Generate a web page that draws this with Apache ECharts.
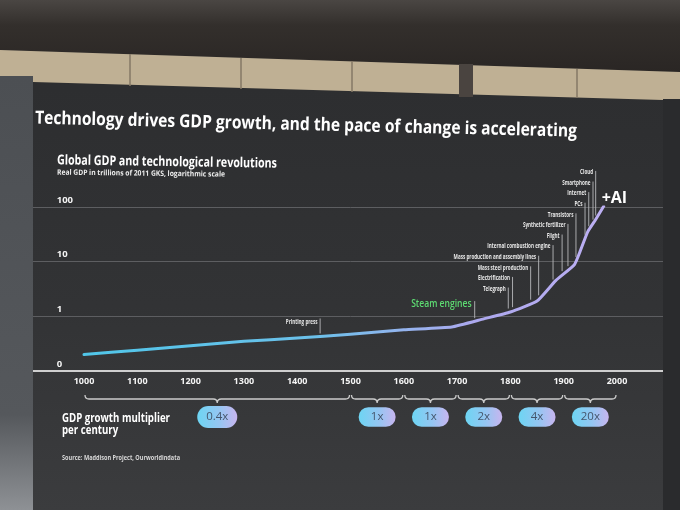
<!DOCTYPE html>
<html><head><meta charset="utf-8">
<script src="https://cdn.jsdelivr.net/npm/echarts@6/dist/echarts.min.js"></script>
<style>html,body{margin:0;padding:0;background:#303133;}#c{width:680px;height:510px;}</style>
</head><body><div id="c"></div>
<script>
// ---- data ----
const gdpYears  = [1000, 1100, 1200, 1300, 1400, 1500, 1600, 1690, 1750, 1800, 1850, 1885, 1920, 1930, 1945, 1960, 1975];
const gdpValues = [0.2, 0.24, 0.29, 0.35, 0.4, 0.47, 0.57, 0.64, 0.9, 1.2, 1.9, 4.5, 8.8, 14.7, 35, 59, 103];

const techNames = ['Telegraph', 'Electrification', 'Mass steel production', 'Mass production and assembly lines',
  'Internal combustion engine', 'Flight', 'Synthetic fertilizer', 'Transistors', 'PCs', 'Internet', 'Smartphone', 'Cloud'];
const techYears = [1796, 1804, 1838, 1853, 1880, 1897, 1908, 1923, 1940, 1947, 1955, 1960];

const milestoneNames = ['Printing press', 'Steam engines'];
const milestoneYears = [1443, 1733];

const periodStarts = [1000, 1500, 1600, 1700, 1800, 1900];
const periodEnds   = [1500, 1600, 1700, 1800, 1900, 2000];
const multipliers  = ['0.4x', '1x', '1x', '2x', '4x', '20x'];

const xTickLabels = ['1000','1100','1200','1300','1400','1500','1600','1700','1800','1900','2000'];
const yTickLabels = ['0', '1', '10', '100'];
const endLabelText = '+AI';

// ---- helpers ----
function gdpAt(year) {
  for (let i = 0; i < gdpYears.length - 1; i++) {
    if (year >= gdpYears[i] && year <= gdpYears[i + 1]) {
      const t = (year - gdpYears[i]) / (gdpYears[i + 1] - gdpYears[i]);
      return Math.pow(10, Math.log10(gdpValues[i]) * (1 - t) + Math.log10(gdpValues[i + 1]) * t);
    }
  }
  return gdpValues[gdpValues.length - 1];
}
const mctx = document.createElement('canvas').getContext('2d');
function fitScale(text, size, family, weight, target) {
  mctx.font = weight + ' ' + size + 'px "' + family + '"';
  return target / mctx.measureText(text).width;
}
const FF = 'Open Sans';

const chart = echarts.init(document.getElementById('c'), null, {renderer: 'canvas'});

const lineGrad = new echarts.graphic.LinearGradient(0, 0, 1, 0, [
  {offset: 0, color: '#50c6e9'}, {offset: 0.45, color: '#6cc0ea'},
  {offset: 0.62, color: '#95b3ee'}, {offset: 0.75, color: '#aca8ee'}, {offset: 1, color: '#bcaff3'}
]);
const pillGrad = new echarts.graphic.LinearGradient(0, 0, 1, 0, [
  {offset: 0, color: '#6dd5f3'}, {offset: 0.55, color: '#95c6f2'}, {offset: 1, color: '#c8b5ef'}
]);

const title = 'Technology drives GDP growth, and the pace of change is accelerating';
const cTitle = 'Global GDP and technological revolutions';
const cSub = 'Real GDP in trillions of 2011 GKS, logarithmic scale';
const mult1 = 'GDP growth multiplier';
const mult2 = 'per century';
const source = 'Source: Maddison Project, Ourworldindata';
const multScale = fitScale(mult1, 11.5, FF, 'bold', 108);

function txt(text, x, y, size, target, opts) {
  opts = opts || {};
  return {
    type: 'text', x: x, y: y, z: 50, rotation: opts.rot || 0,
    scaleX: opts.scale || fitScale(text, size, FF, 'bold', target),
    style: {text: text, fill: opts.fill || '#ffffff', fontSize: size, fontWeight: 'bold', fontFamily: FF,
      align: 'left', verticalAlign: 'middle'}
  };
}

const option = {
  animation: false,
  backgroundColor: new echarts.graphic.LinearGradient(0, 0, 0, 1, [
    {offset: 0, color: '#2b2c2e'}, {offset: 0.6, color: '#323335'}, {offset: 1, color: '#3b3c3e'}
  ]),
  grid: {left: 30.7, right: 9.7, top: 207, bottom: 139, containLabel: false, outerBoundsMode: 'none'},
  xAxis: {
    type: 'value', min: 900, max: 2100, interval: 100, z: 3,
    axisLine: {show: true, onZero: false, lineStyle: {color: '#cfcfcf', width: 2}},
    axisTick: {show: false}, splitLine: {show: false},
    axisLabel: {
      color: '#f4f4f4', fontSize: 9, fontWeight: 'bold', fontFamily: FF, margin: 6,
      formatter: v => { const s = String(Math.round(v)); return xTickLabels.indexOf(s) >= 0 ? s : ''; }
    }
  },
  yAxis: {
    type: 'log', logBase: 10, min: 0.1, max: 100,
    axisLine: {show: false}, axisTick: {show: false},
    splitLine: {show: true, lineStyle: {color: '#5d5e61', width: 1}},
    axisLabel: {
      inside: true, margin: 26, color: '#f4f4f4', fontSize: 9.5, fontWeight: 'bold', fontFamily: FF,
      verticalAlign: 'bottom', padding: [0, 0, 2, 0],
      formatter: v => yTickLabels[Math.round(Math.log10(v)) + 1] || ''
    }
  },
  series: [
    {
      type: 'line', z: 4, silent: true,
      data: gdpYears.map((y, i) => [y, gdpValues[i]]),
      showSymbol: false, symbol: 'none', smooth: 0.15,
      lineStyle: {width: 3, color: lineGrad, cap: 'round', join: 'round'},
      endLabel: {show: true, formatter: endLabelText, color: '#ffffff', fontSize: 16, fontWeight: 'bold',
        fontFamily: FF, distance: 0, offset: [-2, -8]}
    },
    {
      type: 'custom', coordinateSystem: 'cartesian2d', z: 5, silent: true, clip: false,
      data: techYears.map((y, i) => [y, gdpAt(y), i]), encode: {x: 0, y: 1},
      renderItem: function (params, api) {
        const yr = api.value(0), v = api.value(1), idx = api.value(2);
        const p = api.coord([yr, v]);
        const one = api.coord([yr, 1])[1];
        const ly = one - 27.3 - idx * 10.6;
        return {type: 'group', children: [
          {type: 'line', shape: {x1: p[0], y1: ly - 1.5, x2: p[0], y2: p[1] - 4}, style: {stroke: '#b8b9bb', lineWidth: 0.9}},
          {type: 'text', x: p[0] - 2.5, y: ly, scaleX: 0.74,
            style: {text: techNames[idx], fill: '#e8e8e8', fontSize: 6.2, fontWeight: 'bold', fontFamily: FF,
              align: 'right', verticalAlign: 'middle'}}
        ]};
      }
    },
    {
      type: 'custom', coordinateSystem: 'cartesian2d', z: 5, silent: true, clip: false,
      data: milestoneYears.map((y, i) => [y, gdpAt(y), i]), encode: {x: 0, y: 1},
      renderItem: function (params, api) {
        const yr = api.value(0), v = api.value(1), idx = api.value(2);
        const p = api.coord([yr, v]);
        const bottom = p[1] - 3;
        const green = idx === 1;
        const len = green ? 17 : 15;
        const top = bottom - len;
        return {type: 'group', children: [
          {type: 'line', shape: {x1: p[0], y1: top, x2: p[0], y2: bottom}, style: {stroke: '#b8b9bb', lineWidth: 0.9}},
          {type: 'text', x: p[0] - (green ? 3 : 2.5), y: top + (green ? 3 : 3.5), scaleX: green ? 0.78 : 0.74,
            style: {text: milestoneNames[idx], fill: green ? '#5ddb72' : '#e8e8e8',
              fontSize: green ? 11 : 6.2, fontWeight: green ? 600 : 'bold', fontFamily: FF,
              align: 'right', verticalAlign: 'middle'}}
        ]};
      }
    },
    {
      type: 'custom', coordinateSystem: 'cartesian2d', z: 5, silent: true, clip: false,
      data: periodStarts.map((s, i) => [s, periodEnds[i], 0.1, i]), encode: {x: [0, 1], y: 2},
      renderItem: function (params, api) {
        const i = api.value(3);
        const a = api.coord([api.value(0), 0.1]);
        const b = api.coord([api.value(1), 0.1]);
        const x1 = a[0] + 1, x2 = b[0] - 1, base = a[1];
        const y = base + 28, xm = (x1 + x2) / 2, r = 4;
        const path = 'M' + x1 + ' ' + (y - r) + 'Q' + x1 + ' ' + y + ' ' + (x1 + r) + ' ' + y +
          'L' + (xm - r) + ' ' + y + 'Q' + xm + ' ' + y + ' ' + xm + ' ' + (y + r) +
          'Q' + xm + ' ' + y + ' ' + (xm + r) + ' ' + y + 'L' + (x2 - r) + ' ' + y +
          'Q' + x2 + ' ' + y + ' ' + x2 + ' ' + (y - r);
        const w = i === 0 ? 40 : 37, h = i === 0 ? 22 : 19.5, cy = base + 46;
        return {type: 'group', children: [
          {type: 'path', shape: {pathData: path}, style: {stroke: '#cbcbcb', lineWidth: 1.3, fill: 'none'}},
          {type: 'rect', shape: {x: xm - w / 2, y: cy - h / 2, width: w, height: h, r: h / 2}, style: {fill: pillGrad}},
          {type: 'text', x: xm, y: cy, style: {text: multipliers[i], fill: '#45566c', fontSize: 11.5,
            fontFamily: FF, align: 'center', verticalAlign: 'middle'}}
        ]};
      }
    }
  ],
  graphic: [
    // photo surroundings
    {type: 'polygon', z: 100, shape: {points: [[0, 0], [680, 0], [680, 72], [0, 50]]},
      style: {fill: new echarts.graphic.LinearGradient(0, 0, 0, 1, [{offset: 0, color: '#4a4643'}, {offset: 0.35, color: '#332f2c'}, {offset: 1, color: '#2a2624'}])}},
    {type: 'polygon', z: 100, shape: {points: [[0, 50], [680, 72], [680, 100], [663, 100], [33, 82], [0, 82]]},
      style: {fill: '#bfb094'}},
    {type: 'rect', z: 101, shape: {x: 459, y: 64, width: 14, height: 33}, style: {fill: '#4a4440'}},
    {type: 'line', z: 101, shape: {x1: 130, y1: 54, x2: 130, y2: 86}, style: {stroke: '#857866', lineWidth: 1.5}},
    {type: 'line', z: 101, shape: {x1: 241, y1: 58, x2: 241, y2: 89}, style: {stroke: '#857866', lineWidth: 1.5}},
    {type: 'line', z: 101, shape: {x1: 352, y1: 61, x2: 352, y2: 92}, style: {stroke: '#857866', lineWidth: 1.5}},
    {type: 'line', z: 101, shape: {x1: 577, y1: 69, x2: 577, y2: 98}, style: {stroke: '#857866', lineWidth: 1.5}},
    {type: 'rect', z: 100, shape: {x: 0, y: 76, width: 33, height: 434},
      style: {fill: new echarts.graphic.LinearGradient(0, 0, 0, 1, [{offset: 0, color: '#4c4f53'}, {offset: 0.78, color: '#55585c'}, {offset: 1, color: '#8e9195'}])}},
    {type: 'rect', z: 100, shape: {x: 663, y: 99, width: 17, height: 411}, style: {fill: '#2a2b2d'}},
    // slide texts
    txt(title, 35, 118.5, 18, 542, {rot: -0.024}),
    txt(cTitle, 57, 160.5, 13.5, 220, {rot: -0.015}),
    txt(cSub, 57, 172.5, 7.5, 168, {rot: -0.012, fill: '#eeeeee'}),
    txt(mult1, 62, 418.5, 11.5, 108, {scale: multScale}),
    txt(mult2, 62, 431, 11.5, 0, {scale: multScale}),
    txt(source, 62, 458, 6.8, 118, {fill: '#d8d8d8'})
  ]
};
chart.setOption(option);
</script>
</body></html>
